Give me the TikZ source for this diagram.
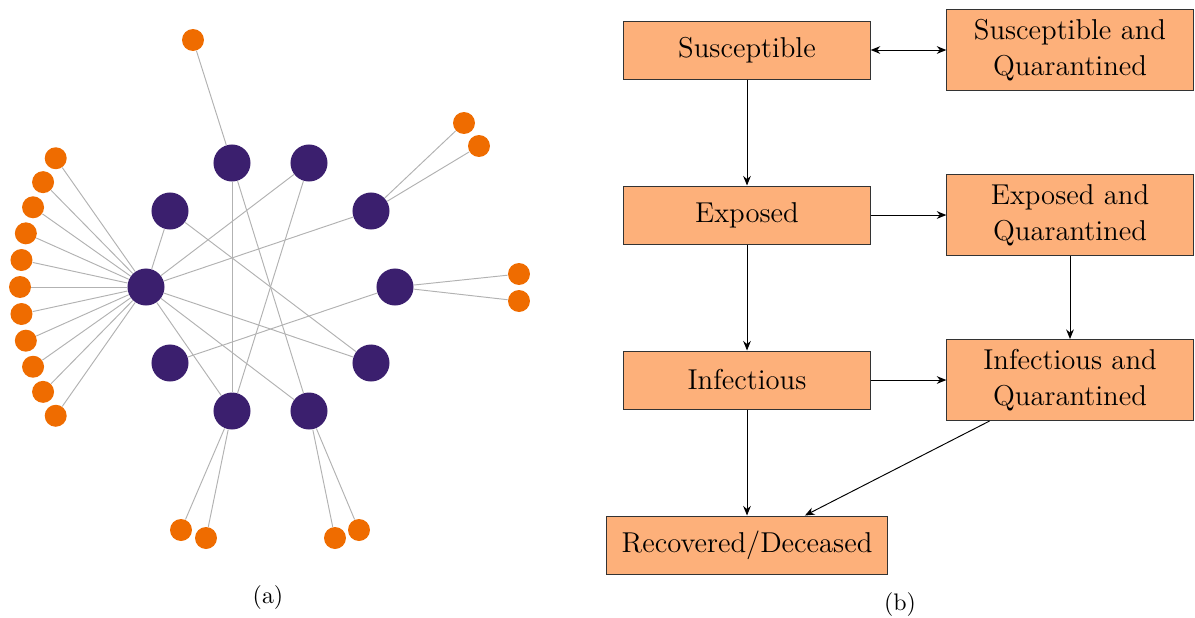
\documentclass[tikz,border=0pt]{standalone}
\usepackage{tikz}
\usetikzlibrary{arrows.meta}
\usetikzlibrary{backgrounds}
\definecolor{netpurple}{RGB}{59,31,110}
\definecolor{netorange}{RGB}{239,108,0}
\definecolor{boxorange}{RGB}{253,176,122}
\tikzset{
  bignode/.style={shape=circle,fill=netpurple,inner sep=0pt,minimum size=0.544cm},
  leafnode/.style={shape=circle,fill=netorange,inner sep=0pt,minimum size=0.323cm},
  link/.style={draw=black!30,line width=0.4pt},
  statebox/.style={shape=rectangle,draw=black!80,fill=boxorange,align=center,font=\large,
    minimum width=3.62cm,minimum height=0.853cm,inner sep=2pt},
  qbox/.style={statebox,minimum height=1.19cm},
  flow/.style={-{Stealth[length=4pt,width=3.2pt]},line width=0.4pt},
  twoway/.style={{Stealth[length=4pt,width=3.2pt]}-{Stealth[length=4pt,width=3.2pt]},line width=0.4pt}
}

\begin{document}
\begin{tikzpicture}[x=0.0147cm,y=-0.0147cm]
  \useasboundingbox (0,0) rectangle (1195,617);

  % (a) contact network
  \node[bignode] (p0) at (146,287) {};
  \node[bignode] (p1) at (170,211) {};
  \node[bignode] (p2) at (232,163) {};
  \node[bignode] (p3) at (309,163) {};
  \node[bignode] (p4) at (371,211) {};
  \node[bignode] (p5) at (395,287) {};
  \node[bignode] (p6) at (371,363) {};
  \node[bignode] (p7) at (309,411) {};
  \node[bignode] (p8) at (232,411) {};
  \node[bignode] (p9) at (170,363) {};

  \foreach \k in {-5,...,5}
    \node[leafnode] (h\k) at ({270-250*cos(6.2*\k)},{287+250*sin(6.2*\k)}) {};
  \node[leafnode] (t1) at (193,40) {};
  \node[leafnode] (r1) at (464,123) {};
  \node[leafnode] (r2) at (479,146) {};
  \node[leafnode] (r3) at (519,274) {};
  \node[leafnode] (r4) at (519,301) {};
  \node[leafnode] (b1) at (181,530) {};
  \node[leafnode] (b2) at (206,538) {};
  \node[leafnode] (b3) at (335,538) {};
  \node[leafnode] (b4) at (359,530) {};

  \begin{scope}[on background layer]
    \foreach \k in {-5,...,5}
      \draw[link] (p0) -- (h\k);
    \foreach \a/\b in {p0/p1,p0/p3,p0/p4,p0/p6,p0/p7,p0/p8,p1/p6,p2/p7,p2/p8,p3/p8,p5/p9,
                       p2/t1,p4/r1,p4/r2,p5/r3,p5/r4,p8/b1,p8/b2,p7/b3,p7/b4}
      \draw[link] (\a) -- (\b);
  \end{scope}

  \node (capa) at (268,598) {(a)};

  % (b) compartments
  \node[statebox] (sus) at (747,50) {Susceptible};
  \node[qbox] (susq) at (1070,50) {Susceptible and\\[1pt]Quarantined};
  \node[statebox] (exp) at (747,215) {Exposed};
  \node[qbox] (expq) at (1070,215) {Exposed and\\[1pt]Quarantined};
  \node[statebox] (inf) at (747,380) {Infectious};
  \node[qbox] (infq) at (1070,380) {Infectious and\\[1pt]Quarantined};
  \node[statebox,minimum width=4.12cm] (rec) at (747,545) {Recovered/Deceased};

  \draw[twoway] (sus) -- (susq);
  \draw[flow] (sus) -- (exp);
  \draw[flow] (exp) -- (expq);
  \draw[flow] (exp) -- (inf);
  \draw[flow] (expq) -- (infq);
  \draw[flow] (inf) -- (infq);
  \draw[flow] (inf) -- (rec);
  \draw[flow] (infq.207) -- (rec.27);

  \node (capb) at (900,605) {(b)};
\end{tikzpicture}
\end{document}
